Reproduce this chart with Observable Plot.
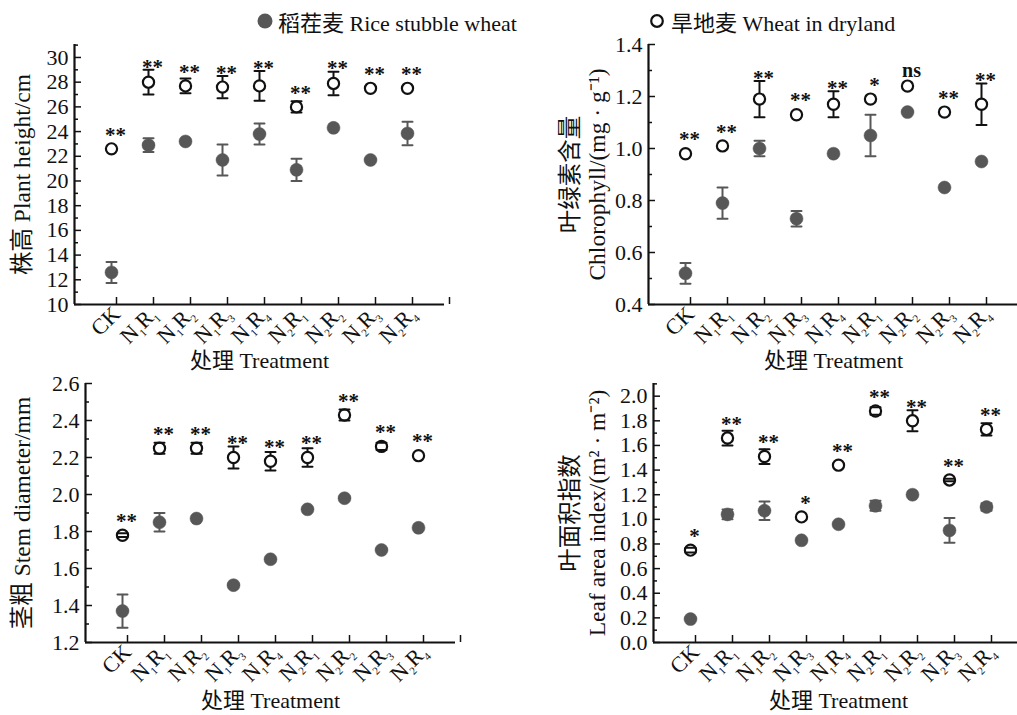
<!DOCTYPE html>
<html><head><meta charset="utf-8">
<script src="https://cdn.jsdelivr.net/npm/d3@7"></script>
<script src="https://cdn.jsdelivr.net/npm/@observablehq/plot@0.6"></script>
<style>
html,body{margin:0;padding:0;background:#fff;}
#root{position:relative;width:1017px;height:715px;overflow:hidden;font-family:"Liberation Serif","Noto Sans CJK SC",serif;color:#111;}
.panel{position:absolute;}
.legend{position:absolute;top:7px;height:28px;font-size:22px;white-space:nowrap;display:flex;align-items:center;z-index:5;}
.legend svg{margin-right:4px;}
</style></head><body><div id="root"></div>
<script>
const categories = ["CK","N1R1","N1R2","N1R3","N1R4","N2R1","N2R2","N2R3","N2R4"];

const heightRice    = [12.6, 22.9, 23.2, 21.7, 23.8, 20.9, 24.3, 21.7, 23.85];
const heightRiceErr = [0.85, 0.55, 0, 1.25, 0.85, 0.9, 0, 0, 0.95];
const heightDry     = [22.6, 28.0, 27.7, 27.6, 27.7, 26.0, 27.9, 27.5, 27.5];
const heightDryErr  = [0, 1.0, 0.6, 0.9, 1.2, 0.45, 0.95, 0, 0];
const heightSig     = ["**","**","**","**","**","**","**","**","**"];

const chlRice    = [0.52, 0.79, 1.00, 0.73, 0.98, 1.05, 1.14, 0.85, 0.95];
const chlRiceErr = [0.04, 0.06, 0.03, 0.03, 0, 0.08, 0, 0, 0];
const chlDry     = [0.98, 1.01, 1.19, 1.13, 1.17, 1.19, 1.24, 1.14, 1.17];
const chlDryErr  = [0, 0, 0.07, 0, 0.05, 0, 0, 0, 0.08];
const chlSig     = ["**","**","**","**","**","*","ns","**","**"];

const stemRice    = [1.37, 1.85, 1.87, 1.51, 1.65, 1.92, 1.98, 1.70, 1.82];
const stemRiceErr = [0.09, 0.05, 0, 0, 0, 0, 0, 0, 0];
const stemDry     = [1.78, 2.25, 2.25, 2.20, 2.18, 2.20, 2.43, 2.26, 2.21];
const stemDryErr  = [0.01, 0.03, 0.03, 0.06, 0.05, 0.05, 0.03, 0.02, 0];
const stemSig     = ["**","**","**","**","**","**","**","**","**"];

const laiRice    = [0.19, 1.04, 1.07, 0.83, 0.96, 1.11, 1.20, 0.91, 1.10];
const laiRiceErr = [0, 0.04, 0.075, 0, 0, 0.04, 0, 0.1, 0.03];
const laiDry     = [0.75, 1.66, 1.51, 1.02, 1.44, 1.88, 1.80, 1.32, 1.73];
const laiDryErr  = [0.02, 0.06, 0.06, 0, 0, 0.03, 0.085, 0.01, 0.05];
const laiSig     = ["*","**","**","*","**","**","**","**","**"];

const legendLabels = ["稻茬麦 Rice stubble wheat", "旱地麦 Wheat in dryland"];
const xTitle = "处理 Treatment";

const FILL = "#575757";
const root = document.getElementById("root");

const cap = {draw(ctx, l) { ctx.moveTo(0, 0); ctx.lineTo(0, -l); }};

function panel(cfg) {
  const {left, top, width, height, mL, mR, mT, mB, domain, major, minor, fmt,
         rice, riceErr, dry, dryErr, sig, yTitles, xTitleDy} = cfg;
  const rows = categories.map((c, i) => ({i, c, rice: rice[i], re: riceErr[i], dry: dry[i], de: dryErr[i], sig: sig[i]}));
  const ppu = (height - mT - mB) / (domain[1] - domain[0]);
  const sigY = d => Math.max(d.dry + 17 / ppu, d.dry + d.de + 6 / ppu);
  const riceE = rows.filter(d => d.re > 0), dryE = rows.filter(d => d.de > 0);
  const marks = [
    Plot.axisY(minor, {tickSize: -4, tickFormat: () => "", label: null, strokeWidth: 1.5}),
    Plot.axisY(major, {tickSize: -7, tickPadding: 13, tickFormat: fmt, label: null, strokeWidth: 1.5, fill: "#111", fontSize: 22}),
    Plot.axisX(d3.range(0, 10), {tickSize: -7, tickPadding: 13, tickRotate: -45, dx: 5, fontSize: 22,
      tickFormat: i => categories[i] ?? "", label: null, strokeWidth: 1.5, fill: "#111"}),
    Plot.ruleY([domain[0]], {strokeWidth: 2.2, stroke: "#111"}),
    Plot.ruleX([-1], {strokeWidth: 2.2, stroke: "#111"}),
    Plot.ruleX(riceE, {x: "i", y1: d => d.rice - d.re, y2: d => d.rice + d.re, stroke: FILL, strokeWidth: 2}),
    Plot.ruleX(dryE, {x: "i", y1: d => d.dry - d.de, y2: d => d.dry + d.de, stroke: "#111", strokeWidth: 2}),
    Plot.dot(rows, {x: "i", y: "rice", r: 6.5, fill: FILL, stroke: FILL, strokeWidth: 0.5}),
    Plot.dot(rows, {x: "i", y: "dry", r: 5.6, fill: "white", stroke: "#111", strokeWidth: 2.2}),
    ...[1, -1].flatMap(s => [
      Plot.vector(riceE, {x: "i", y: d => d.rice + s * d.re, length: 10, rotate: 90, anchor: "middle", shape: cap, stroke: FILL, strokeWidth: 2}),
      Plot.vector(dryE, {x: "i", y: d => d.dry + s * d.de, length: 10, rotate: 90, anchor: "middle", shape: cap, stroke: "#111", strokeWidth: 2})
    ]),
    Plot.text(rows.filter(d => d.sig !== "ns"), {x: "i", y: sigY, text: "sig", fontSize: 21, fontWeight: "bold", dx: 4, dy: 3, fill: "#111"}),
    Plot.text(rows.filter(d => d.sig === "ns"), {x: "i", y: sigY, text: "sig", fontSize: 20, fontWeight: "bold", dx: 4, dy: 1, fill: "#111"}),
    Plot.text([xTitle], {frameAnchor: "bottom", lineAnchor: "middle", dy: xTitleDy, fontSize: 22, fill: "#111"}),
    ...yTitles.map(t => Plot.text([t.text], {frameAnchor: "left", textAnchor: "middle", lineAnchor: "middle", dx: t.dx, rotate: -90, fontSize: 23.5, fill: "#111"}))
  ];
  const svg = Plot.plot({
    width, height, marginLeft: mL, marginRight: mR, marginTop: mT, marginBottom: mB,
    x: {type: "linear", domain: [-1, 9]},
    y: {domain},
    style: {background: "transparent", overflow: "visible", fontFamily: '"Liberation Serif","Noto Sans CJK SC",serif', fontSize: "21px", color: "#111"},
    marks
  });
  d3.select(svg).selectAll('g[aria-label="x-axis tick label"] text').each(function () {
    const t = this.textContent;
    const m = /^N(\d)R(\d)$/.exec(t);
    if (m) {
      const el = d3.select(this);
      el.text(null);
      el.append("tspan").text("N");
      el.append("tspan").attr("font-size", 11).attr("dy", 5).text(m[1]);
      el.append("tspan").attr("dy", -5).text("R");
      el.append("tspan").attr("font-size", 11).attr("dy", 5).text(m[2]);
    }
  });
  svg.classList.add("panel");
  svg.style.left = left + "px";
  svg.style.top = top + "px";
  svg.style.maxWidth = "none";
  root.appendChild(svg);
}

const f1 = d3.format(".1f");
const rng = (a, b, s) => d3.range(a, b + s / 2, s).map(v => +v.toFixed(3));

panel({left: 0, top: 0, width: 509, height: 372, mL: 74, mR: 65, mT: 44, mB: 68,
  domain: [10, 31.05], major: rng(10, 30, 2), minor: rng(11, 31, 2), fmt: d3.format("d"),
  rice: heightRice, riceErr: heightRiceErr, dry: heightDry, dryErr: heightDryErr, sig: heightSig,
  yTitles: [{text: "株高 Plant height/cm", dx: -52}], xTitleDy: 56});

panel({left: 509, top: 0, width: 520, height: 372, mL: 139, mR: 11, mT: 44, mB: 68,
  domain: [0.4, 1.4], major: rng(0.4, 1.4, 0.2), minor: rng(0.5, 1.3, 0.2), fmt: f1,
  rice: chlRice, riceErr: chlRiceErr, dry: chlDry, dryErr: chlDryErr, sig: chlSig,
  yTitles: [{text: "叶绿素含量", dx: -78}, {text: "Chlorophyll/(mg · g⁻¹)", dx: -51}], xTitleDy: 56});

panel({left: 0, top: 372, width: 509, height: 343, mL: 85, mR: 54, mT: 11, mB: 73,
  domain: [1.2, 2.6], major: rng(1.2, 2.6, 0.2), minor: rng(1.3, 2.5, 0.2), fmt: f1,
  rice: stemRice, riceErr: stemRiceErr, dry: stemDry, dryErr: stemDryErr, sig: stemSig,
  yTitles: [{text: "茎粗 Stem diameter/mm", dx: -63}], xTitleDy: 58});

panel({left: 509, top: 372, width: 520, height: 343, mL: 144, mR: 6, mT: 11, mB: 73,
  domain: [0, 2.103], major: rng(0, 2.0, 0.2), minor: rng(0.1, 2.1, 0.2), fmt: f1,
  rice: laiRice, riceErr: laiRiceErr, dry: laiDry, dryErr: laiDryErr, sig: laiSig,
  yTitles: [{text: "叶面积指数", dx: -83}, {text: "Leaf area index/(m² · m⁻²)", dx: -56}], xTitleDy: 58});

const lg1 = document.createElement("div");
lg1.className = "legend"; lg1.style.left = "256px";
lg1.innerHTML = `<svg width="18" height="18"><circle cx="9" cy="9" r="7.5" fill="${FILL}"/></svg><span>${legendLabels[0]}</span>`;
root.appendChild(lg1);
const lg2 = document.createElement("div");
lg2.className = "legend"; lg2.style.left = "649px";
lg2.innerHTML = `<svg width="18" height="18"><circle cx="8" cy="9" r="5.8" fill="white" stroke="#111" stroke-width="2.2"/></svg><span>${legendLabels[1]}</span>`;
root.appendChild(lg2);
</script></body></html>
